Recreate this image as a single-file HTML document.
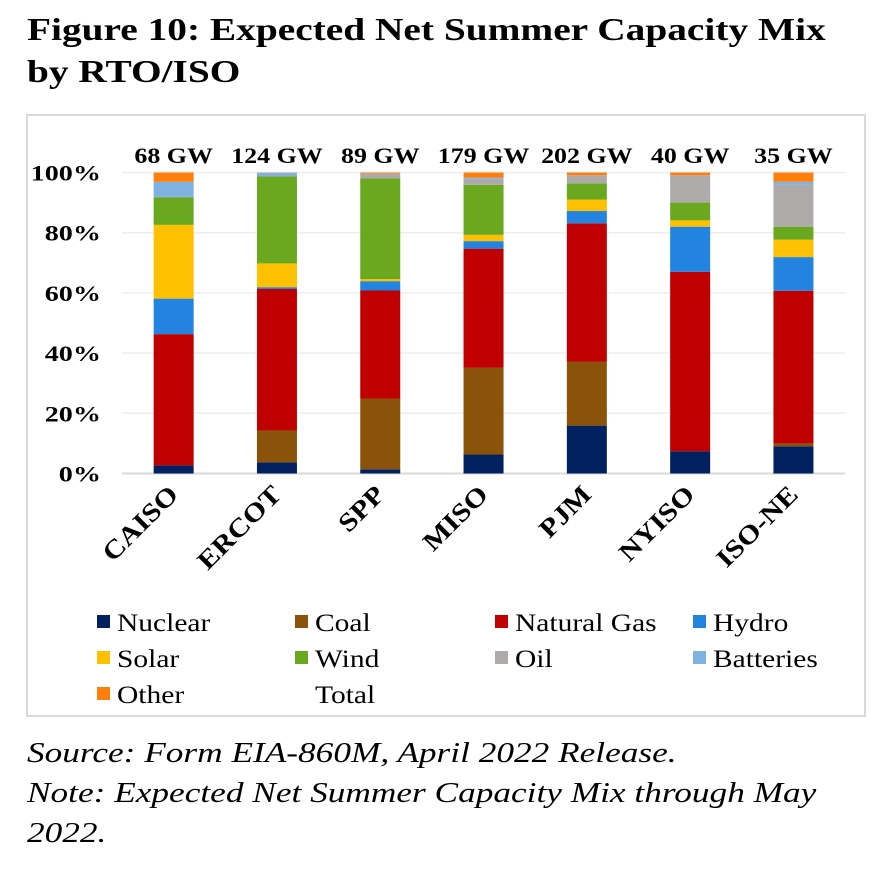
<!DOCTYPE html>
<html><head><meta charset="utf-8"><style>
body{margin:0;background:#fff;width:892px;height:896px;overflow:hidden;font-family:"Liberation Serif",serif;}
#title{position:absolute;left:27px;top:8px;font-weight:bold;font-size:32px;line-height:42px;color:#000;margin:0;transform:scaleX(1.23);transform-origin:0 0;white-space:nowrap;}
#box{position:absolute;left:26px;top:114px;width:836px;height:599px;border:2px solid #d9d9d9;}
.note{position:absolute;left:27px;font-style:italic;font-size:28px;line-height:40px;color:#000;transform:scaleX(1.26);transform-origin:0 0;white-space:nowrap;}
</style></head><body>
<h1 id="title">Figure 10: Expected Net Summer Capacity Mix<br>by RTO/ISO</h1>
<div id="box"></div>
<svg id="chart" width="892" height="896" style="position:absolute;left:0;top:0"></svg>
<div class="note" style="top:734px">Source: Form EIA-860M, April 2022 Release.</div>
<div class="note" style="top:774px">Note: Expected Net Summer Capacity Mix through May<br>2022.</div>
<script>
const categories=["CAISO","ERCOT","SPP","MISO","PJM","NYISO","ISO-NE"];
const totals=["68 GW","124 GW","89 GW","179 GW","202 GW","40 GW","35 GW"];
const seriesNames=["Nuclear","Coal","Natural Gas","Hydro","Solar","Wind","Oil","Batteries","Other"];
const nuclear=[2.7,3.7,1.4,6.3,15.9,7.4,9.0];
const coal=[0,10.6,23.5,28.8,21.3,0,1.0];
const naturalGas=[43.6,47.0,35.9,39.6,45.9,59.6,50.7];
const hydro=[11.8,0.6,3.1,2.5,4.1,15.0,11.2];
const solar=[24.5,7.9,0.7,2.1,3.8,2.1,5.8];
const wind=[9.1,28.9,33.4,16.6,5.4,5.9,4.3];
const oil=[0.2,0,1.7,2.0,2.7,9.1,13.9];
const batteries=[5.0,1.2,0,0.4,0,0,1.0];
const other=[3.1,0.1,0.3,1.7,0.9,0.9,3.1];
const yTicks=[0,20,40,60,80,100];
const colors=["#002060","#8B5209","#C00000","#2283E0","#FFC000","#6AA820","#ADAAA9","#7EB2E0","#FF7F0C"];
const series=[nuclear,coal,naturalGas,hydro,solar,wind,oil,batteries,other];
const svg=document.getElementById('chart');
const NS="http://www.w3.org/2000/svg";
const y0=473.5,y100=172.5,x0=122,step=103.3,barW=40;
const y=v=>y0-(y0-y100)*v/100;
const xc=i=>x0+step*(i+0.5);
function mk(t,a){const e=document.createElementNS(NS,t);for(const k in a)e.setAttribute(k,a[k]);svg.appendChild(e);return e;}
function txt(s,x,yy,sx,rot,a){const e=mk('text',Object.assign({x:0,y:0,'font-family':'Liberation Serif, serif',transform:`translate(${x} ${yy}) rotate(${rot}) scale(${sx} 1)`},a));e.textContent=s;return e;}
yTicks.forEach(t=>{
  const g=mk('line',{x1:x0,x2:x0+step*7,y1:y(t),y2:y(t),stroke:t===0?'#d9d9d9':'#eeeeee','stroke-width':t===0?2:1.5});
  
  
  const l=txt(t+'%',101,y(t)+8,1.28,0,{'text-anchor':'end','font-size':22,'font-weight':'bold'});
  
  
});
categories.forEach((c,i)=>{
  let acc=0;
  series.forEach((s,k)=>{
    const v=s[i];if(v<=0){return;}
    const r=mk('rect',{x:xc(i)-barW/2,y:y(acc+v),width:barW,height:y(acc)-y(acc+v),fill:colors[k]});
    
    
    acc+=v;
  });
  const t=txt(totals[i],xc(i),163,1.18,0,{'text-anchor':'middle','font-size':22,'font-weight':'bold'});
  
  
  const cl=txt(c,xc(i)+6,496,1.15,-45,{'text-anchor':'end','font-size':26,'font-weight':'bold'});
  
  
});
const legendItems=seriesNames.concat(["Total"]);
const legX=[97,295,495,693];
legendItems.forEach((n,i)=>{
  const col=i%4,row=Math.floor(i/4);
  const lx=legX[col],ly=622+row*36;
  if(i<9){
    const sw=mk('rect',{x:lx,y:ly-7,width:13,height:13,fill:colors[i]});
    
    
  }
  const t=txt(n,lx+20,ly+9,1.18,0,{'font-size':25});
  
  
});
</script>
</body></html>
